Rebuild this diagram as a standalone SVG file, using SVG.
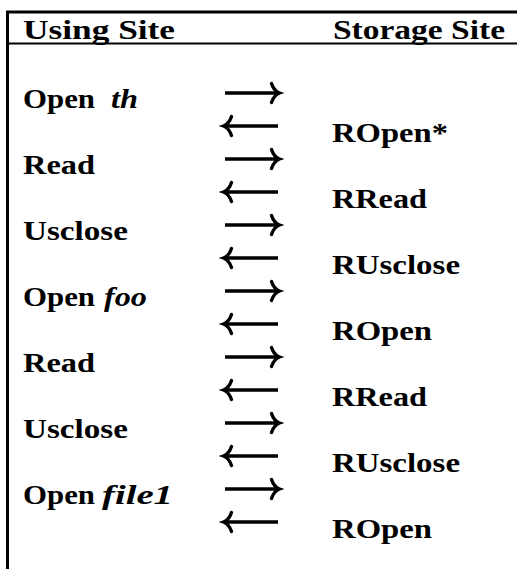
<svg xmlns="http://www.w3.org/2000/svg" width="517" height="569" viewBox="0 0 517 569">
  <style>
    .lbl { font-family: "Liberation Serif", "DejaVu Serif", serif; font-weight: bold; font-size: 27px; fill: #000; }
    .it { font-style: italic; }
    .rule { stroke: #000; fill: none; }
    .arrow { stroke: #000; stroke-width: 3.5; fill: none; marker-end: url(#hook); }
  </style>
  <defs>
    <marker id="hook" viewBox="0 0 10 20" refX="9" refY="10" markerWidth="10" markerHeight="20" markerUnits="userSpaceOnUse" orient="auto" overflow="visible">
      <path d="M1.5 0.5 Q4 8 9.5 10 Q4 12 1.5 19.5" stroke="#000" stroke-width="3.4" fill="none" stroke-linecap="round"/>
    </marker>
  </defs>

  <rect width="517" height="569" fill="#fff"/>

  <!-- table frame -->
  <g id="frame">
    <line class="rule" x1="6" y1="12" x2="517" y2="12" stroke-width="3"/>
    <line class="rule" x1="7.5" y1="11" x2="7.5" y2="569" stroke-width="3"/>
    <line class="rule" x1="7" y1="43.5" x2="517" y2="43.5" stroke-width="2"/>
  </g>

  <!-- column headings -->
  <g id="head-using"><text class="lbl" x="23" y="39" textLength="152" lengthAdjust="spacingAndGlyphs">Using Site</text></g>
  <g id="head-storage"><text class="lbl" x="333" y="39" textLength="172" lengthAdjust="spacingAndGlyphs">Storage Site</text></g>

  <!-- using site calls -->
  <g id="u1"><text class="lbl" x="23" y="108"><tspan textLength="72" lengthAdjust="spacingAndGlyphs">Open</tspan><tspan class="it" x="111" textLength="27" lengthAdjust="spacingAndGlyphs">th</tspan></text></g>
  <g id="u2"><text class="lbl" x="23" y="174" textLength="72" lengthAdjust="spacingAndGlyphs">Read</text></g>
  <g id="u3"><text class="lbl" x="23" y="240" textLength="105" lengthAdjust="spacingAndGlyphs">Usclose</text></g>
  <g id="u4"><text class="lbl" x="23" y="306"><tspan textLength="72" lengthAdjust="spacingAndGlyphs">Open</tspan><tspan class="it" x="104" textLength="43" lengthAdjust="spacingAndGlyphs">foo</tspan></text></g>
  <g id="u5"><text class="lbl" x="23" y="372" textLength="72" lengthAdjust="spacingAndGlyphs">Read</text></g>
  <g id="u6"><text class="lbl" x="23" y="438" textLength="105" lengthAdjust="spacingAndGlyphs">Usclose</text></g>
  <g id="u7"><text class="lbl" x="23" y="504"><tspan textLength="72" lengthAdjust="spacingAndGlyphs">Open</tspan><tspan class="it" x="102" textLength="71" lengthAdjust="spacingAndGlyphs">file1</tspan></text></g>

  <!-- storage site replies -->
  <g id="s1"><text class="lbl" x="332" y="142" textLength="116" lengthAdjust="spacingAndGlyphs">ROpen*</text></g>
  <g id="s2"><text class="lbl" x="332" y="208" textLength="95" lengthAdjust="spacingAndGlyphs">RRead</text></g>
  <g id="s3"><text class="lbl" x="332" y="274" textLength="128" lengthAdjust="spacingAndGlyphs">RUsclose</text></g>
  <g id="s4"><text class="lbl" x="332" y="340" textLength="100" lengthAdjust="spacingAndGlyphs">ROpen</text></g>
  <g id="s5"><text class="lbl" x="332" y="406" textLength="95" lengthAdjust="spacingAndGlyphs">RRead</text></g>
  <g id="s6"><text class="lbl" x="332" y="472" textLength="128" lengthAdjust="spacingAndGlyphs">RUsclose</text></g>
  <g id="s7"><text class="lbl" x="332" y="538" textLength="100" lengthAdjust="spacingAndGlyphs">ROpen</text></g>

  <!-- message arrows: requests point right, replies point left -->
  <g id="connectors">
    <line class="arrow" x1="225" y1="93" x2="279" y2="93"/>
    <line class="arrow" x1="278" y1="126" x2="224" y2="126"/>
    <line class="arrow" x1="225" y1="159" x2="279" y2="159"/>
    <line class="arrow" x1="278" y1="192" x2="224" y2="192"/>
    <line class="arrow" x1="225" y1="225" x2="279" y2="225"/>
    <line class="arrow" x1="278" y1="258" x2="224" y2="258"/>
    <line class="arrow" x1="225" y1="291" x2="279" y2="291"/>
    <line class="arrow" x1="278" y1="324" x2="224" y2="324"/>
    <line class="arrow" x1="225" y1="357" x2="279" y2="357"/>
    <line class="arrow" x1="278" y1="390" x2="224" y2="390"/>
    <line class="arrow" x1="225" y1="423" x2="279" y2="423"/>
    <line class="arrow" x1="278" y1="456" x2="224" y2="456"/>
    <line class="arrow" x1="225" y1="489" x2="279" y2="489"/>
    <line class="arrow" x1="278" y1="522" x2="224" y2="522"/>
  </g>
</svg>
